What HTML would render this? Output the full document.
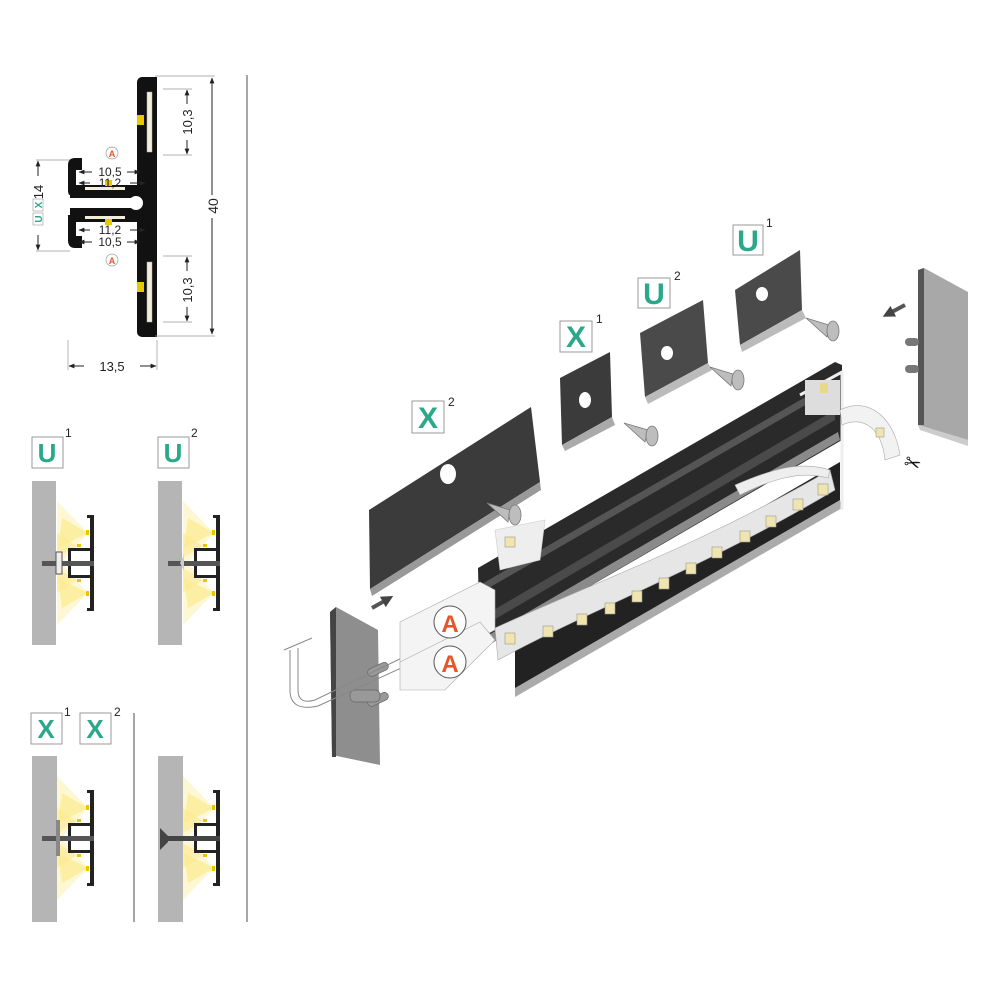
<!DOCTYPE html>
<html><head><meta charset="utf-8"><style>
html,body{margin:0;padding:0;background:#fff;}
svg{display:block;font-family:"Liberation Sans",sans-serif;}
</style></head><body>
<svg width="1000" height="1000" viewBox="0 0 1000 1000" xmlns="http://www.w3.org/2000/svg">
<defs>
<marker id="ar" viewBox="0 0 10 10" refX="9" refY="5" markerWidth="6" markerHeight="6" orient="auto-start-reverse"><path d="M0,1 L10,5 L0,9 z" fill="#222"/></marker>
<marker id="big" viewBox="0 0 10 10" refX="5" refY="5" markerUnits="userSpaceOnUse" markerWidth="12" markerHeight="12" orient="auto"><path d="M0,0 L10,5 L0,10 z" fill="#444"/></marker>
<g id="mini">
  <path d="M56,-30 L25,-62 L25,5 Z" fill="#fdf3c0" opacity="0.7"/>
  <path d="M56,-30 L30,-45 L26,-15 Z" fill="#fbe98f" opacity="0.7"/>
  <path d="M56,30 L25,62 L25,-5 Z" fill="#fdf3c0" opacity="0.7"/>
  <path d="M56,30 L30,45 L26,15 Z" fill="#fbe98f" opacity="0.7"/>
  <path d="M45,-17 L25,-30 L25,-5 Z" fill="#fbe98f" opacity="0.6"/>
  <path d="M45,17 L25,30 L25,5 Z" fill="#fbe98f" opacity="0.6"/>
  <rect x="58" y="-48" width="4" height="96" fill="#222"/>
  <rect x="55" y="-48" width="6" height="3" fill="#222"/>
  <rect x="55" y="45" width="6" height="3" fill="#222"/>
  <rect x="54" y="-33" width="3" height="5" fill="#e8c600"/>
  <rect x="54" y="28" width="3" height="5" fill="#e8c600"/>
  <rect x="36" y="-15" width="22" height="3" fill="#222"/>
  <rect x="36" y="12" width="22" height="3" fill="#222"/>
  <rect x="36" y="-15" width="3" height="30" fill="#222"/>
  <rect x="45" y="-19" width="4" height="3" fill="#e8c600"/>
  <rect x="45" y="16" width="4" height="3" fill="#e8c600"/>
</g>
</defs>

<line x1="247" y1="75" x2="247" y2="922" stroke="#888" stroke-width="1.5"/>
<line x1="134" y1="713" x2="134" y2="922" stroke="#888" stroke-width="1.5"/>

<!-- ===== cross section ===== -->
<g>
  <rect x="137" y="77" width="20" height="260" rx="5" fill="#111"/>
  <rect x="148" y="77" width="9" height="260" fill="#111"/>
  <rect x="147" y="92" width="5" height="60" fill="#f3eedc" stroke="#aaa" stroke-width="0.5"/>
  <rect x="147" y="262" width="5" height="60" fill="#f3eedc" stroke="#aaa" stroke-width="0.5"/>
  <rect x="137" y="115" width="7" height="10" fill="#e8c800"/>
  <rect x="137" y="282" width="7" height="10" fill="#e8c800"/>
  <path d="M68,165 Q68,158 75,158 L82,158 L82,170 L76,170 L76,185 L140,185 L140,195 L70,195 Q68,195 68,190 Z" fill="#111"/>
  <path d="M70,190 L145,190 L145,198 L70,198 Z" fill="#111"/>
  <path d="M70,208 L145,208 L145,216 L70,216 Z" fill="#111"/>
  <path d="M68,215 L140,215 L140,222 L76,222 L76,236 L82,236 L82,248 L75,248 Q68,248 68,240 Z" fill="#111"/>
  <circle cx="136" cy="203" r="7" fill="#fff"/>
  <rect x="140" y="156" width="8" height="6" fill="#111"/>
  <rect x="140" y="244" width="8" height="6" fill="#111"/>
  <rect x="85" y="187" width="40" height="3" fill="#f3eedc"/>
  <rect x="85" y="216" width="40" height="3" fill="#f3eedc"/>
  <rect x="105" y="180" width="7" height="6" fill="#e8c800"/>
  <rect x="105" y="219" width="7" height="6" fill="#e8c800"/>
  <line x1="155" y1="76" x2="215" y2="76" stroke="#999" stroke-width="0.7"/>
  <line x1="155" y1="336" x2="215" y2="336" stroke="#999" stroke-width="0.7"/>
  <line x1="212" y1="78" x2="212" y2="195" stroke="#222" marker-start="url(#ar)"/>
  <line x1="212" y1="218" x2="212" y2="334" stroke="#222" marker-end="url(#ar)"/>
  <text transform="translate(218,206) rotate(-90)" font-size="14" fill="#222" text-anchor="middle">40</text>
  <line x1="163" y1="89" x2="192" y2="89" stroke="#999" stroke-width="0.7"/>
  <line x1="163" y1="155" x2="192" y2="155" stroke="#999" stroke-width="0.7"/>
  <line x1="187" y1="90" x2="187" y2="104" stroke="#222" marker-start="url(#ar)"/>
  <line x1="187" y1="140" x2="187" y2="154" stroke="#222" marker-end="url(#ar)"/>
  <text transform="translate(192,122) rotate(-90)" font-size="13" fill="#222" text-anchor="middle">10,3</text>
  <line x1="163" y1="256" x2="192" y2="256" stroke="#999" stroke-width="0.7"/>
  <line x1="163" y1="322" x2="192" y2="322" stroke="#999" stroke-width="0.7"/>
  <line x1="187" y1="257" x2="187" y2="271" stroke="#222" marker-start="url(#ar)"/>
  <line x1="187" y1="307" x2="187" y2="321" stroke="#222" marker-end="url(#ar)"/>
  <text transform="translate(192,290) rotate(-90)" font-size="13" fill="#222" text-anchor="middle">10,3</text>
  <line x1="36" y1="160" x2="70" y2="160" stroke="#999" stroke-width="0.7"/>
  <line x1="36" y1="251" x2="70" y2="251" stroke="#999" stroke-width="0.7"/>
  <line x1="38" y1="161" x2="38" y2="176" stroke="#222" marker-start="url(#ar)"/>
  <line x1="38" y1="235" x2="38" y2="250" stroke="#222" marker-end="url(#ar)"/>
  <text transform="translate(43,192) rotate(-90)" font-size="13" fill="#222" text-anchor="middle">14</text>
  <rect x="33" y="199" width="10" height="12" fill="#fff" stroke="#999" stroke-width="0.6"/>
  <text transform="translate(42,205) rotate(-90)" font-size="10" font-weight="bold" fill="#2aa88a" text-anchor="middle">X</text>
  <rect x="33" y="213" width="10" height="12" fill="#fff" stroke="#999" stroke-width="0.6"/>
  <text transform="translate(42,219) rotate(-90)" font-size="10" font-weight="bold" fill="#2aa88a" text-anchor="middle">U</text>
  <line x1="68" y1="340" x2="68" y2="370" stroke="#999" stroke-width="0.7"/>
  <line x1="157" y1="340" x2="157" y2="370" stroke="#999" stroke-width="0.7"/>
  <line x1="69" y1="366" x2="84" y2="366" stroke="#222" marker-start="url(#ar)"/>
  <line x1="140" y1="366" x2="156" y2="366" stroke="#222" marker-end="url(#ar)"/>
  <text x="112" y="371" font-size="13" fill="#222" text-anchor="middle">13,5</text>
  <line x1="79" y1="172" x2="92" y2="172" stroke="#222" marker-start="url(#ar)"/>
  <line x1="127" y1="172" x2="140" y2="172" stroke="#222" marker-end="url(#ar)"/>
  <text x="110" y="176" font-size="12" fill="#222" text-anchor="middle">10,5</text>
  <line x1="79" y1="183" x2="90" y2="183" stroke="#222" marker-start="url(#ar)"/>
  <line x1="130" y1="183" x2="145" y2="183" stroke="#222" marker-end="url(#ar)"/>
  <text x="110" y="187" font-size="12" fill="#222" text-anchor="middle">11,2</text>
  <line x1="79" y1="230" x2="90" y2="230" stroke="#222" marker-start="url(#ar)"/>
  <line x1="130" y1="230" x2="145" y2="230" stroke="#222" marker-end="url(#ar)"/>
  <text x="110" y="234" font-size="12" fill="#222" text-anchor="middle">11,2</text>
  <line x1="79" y1="242" x2="92" y2="242" stroke="#222" marker-start="url(#ar)"/>
  <line x1="127" y1="242" x2="140" y2="242" stroke="#222" marker-end="url(#ar)"/>
  <text x="110" y="246" font-size="12" fill="#222" text-anchor="middle">10,5</text>
  <circle cx="112" cy="153" r="6" fill="#fff" stroke="#999" stroke-width="0.7"/>
  <text x="112" y="157" font-size="9" font-weight="bold" fill="#e8542a" text-anchor="middle">A</text>
  <circle cx="112" cy="260" r="6" fill="#fff" stroke="#999" stroke-width="0.7"/>
  <text x="112" y="264" font-size="9" font-weight="bold" fill="#e8542a" text-anchor="middle">A</text>
</g>

<!-- ===== mini sections ===== -->
<g font-weight="bold" fill="#2aa88a" font-size="26" text-anchor="middle">
  <rect x="32" y="437" width="31" height="31" fill="#fff" stroke="#999"/><text x="47" y="462">U</text>
  <rect x="158" y="437" width="31" height="31" fill="#fff" stroke="#999"/><text x="173" y="462">U</text>
  <rect x="31" y="713" width="31" height="31" fill="#fff" stroke="#999"/><text x="46" y="738">X</text>
  <rect x="80" y="713" width="31" height="31" fill="#fff" stroke="#999"/><text x="95" y="738">X</text>
</g>
<g font-size="12" fill="#222">
  <text x="65" y="437">1</text><text x="191" y="437">2</text>
  <text x="64" y="716">1</text><text x="114" y="716">2</text>
</g>
<rect x="32" y="481" width="24" height="164" fill="#b5b5b5"/>
<rect x="158" y="481" width="24" height="164" fill="#b5b5b5"/>
<rect x="32" y="756" width="25" height="166" fill="#b5b5b5"/>
<rect x="158" y="756" width="25" height="166" fill="#b5b5b5"/>
<use href="#mini" x="32" y="563"/>
<use href="#mini" x="158" y="563"/>
<use href="#mini" x="32" y="838"/>
<use href="#mini" x="158" y="838"/>
<rect x="42" y="561" width="52" height="5" fill="#555"/>
<rect x="56" y="552" width="6" height="22" fill="#eee" stroke="#555"/>
<rect x="168" y="561" width="52" height="5" fill="#555"/>
<path d="M180,563 L184,555 L184,571 Z" fill="#ccc"/>
<rect x="42" y="836" width="52" height="5" fill="#555"/>
<rect x="56" y="820" width="4" height="36" fill="#888"/>
<rect x="160" y="836" width="60" height="5" fill="#444"/>
<path d="M160,828 L168,836 L168,842 L160,850 Z" fill="#444"/>

<!-- ===== exploded view ===== -->
<g font-weight="bold" fill="#2aa88a" font-size="30" text-anchor="middle">
  <rect x="412" y="401" width="32" height="32" fill="#fff" stroke="#999"/><text x="428" y="428">X</text>
  <rect x="560" y="321" width="32" height="31" fill="#fff" stroke="#999"/><text x="576" y="347">X</text>
  <rect x="638" y="278" width="32" height="30" fill="#fff" stroke="#999"/><text x="654" y="304">U</text>
  <rect x="733" y="225" width="30" height="30" fill="#fff" stroke="#999"/><text x="748" y="251">U</text>
</g>
<g font-size="12" fill="#222">
  <text x="448" y="406">2</text><text x="596" y="323">1</text><text x="674" y="280">2</text><text x="766" y="227">1</text>
</g>

<path d="M369,510 L531,407 L540,482 L370,589 Z" fill="#3b3b3b"/>
<path d="M370,589 L540,482 L541,490 L372,596 Z" fill="#999"/>
<ellipse cx="448" cy="474" rx="8" ry="10" fill="#fff"/>
<path d="M560,378 L610,352 L612,417 L562,445 Z" fill="#3b3b3b"/>
<path d="M562,445 L612,417 L615,425 L565,451 Z" fill="#aaa"/>
<ellipse cx="585" cy="400" rx="6" ry="8" fill="#fff"/>
<path d="M640,333 L703,300 L708,363 L645,397 Z" fill="#4a4a4a"/>
<path d="M645,397 L708,363 L712,370 L648,404 Z" fill="#bbb"/>
<ellipse cx="667" cy="353" rx="6" ry="7" fill="#fff"/>
<path d="M735,290 L800,250 L802,310 L740,345 Z" fill="#4a4a4a"/>
<path d="M740,345 L802,310 L806,318 L742,352 Z" fill="#bbb"/>
<ellipse cx="762" cy="294" rx="6" ry="7" fill="#fff"/>

<g fill="#bdbdbd" stroke="#777" stroke-width="0.8">
  <path d="M487,503 L510,510 L508,522 Z"/><ellipse cx="515" cy="515" rx="6" ry="10"/>
  <path d="M624,423 L648,430 L645,442 Z"/><ellipse cx="652" cy="436" rx="6" ry="10"/>
  <path d="M710,367 L733,374 L731,386 Z"/><ellipse cx="738" cy="380" rx="6" ry="10"/>
  <path d="M806,318 L829,325 L827,337 Z"/><ellipse cx="833" cy="331" rx="6" ry="10"/>
</g>

<path d="M478,568 L835,362 L842,365 L842,440 L480,650 Z" fill="#2a2a2a"/>
<path d="M480,585 L835,380 L835,388 L480,593 Z" fill="#555"/>
<path d="M480,618 L835,410 L835,420 L480,628 Z" fill="#4a4a4a"/>
<path d="M480,640 L838,432 L840,440 L480,650 Z" fill="#8a8a8a"/>
<path d="M515,650 L840,462 L840,508 L515,695 Z" fill="#222"/>
<path d="M515,688 L840,500 L842,508 L515,697 Z" fill="#aaa"/>
<path d="M800,395 L842,372 L842,510" fill="none" stroke="#eee" stroke-width="3"/>
<rect x="805" y="380" width="35" height="35" fill="#ddd"/>
<rect x="820" y="383" width="8" height="10" fill="#e8d88a"/>
<path d="M495,628 C600,580 700,545 830,470 L835,490 C700,570 600,605 498,660 Z" fill="#e6e6e6" stroke="#aaa" stroke-width="0.6"/>
<g fill="#f0e4b0" stroke="#998" stroke-width="0.6">
  <rect x="505" y="633" width="10" height="11"/><rect x="543" y="626" width="10" height="11"/><rect x="577" y="614" width="10" height="11"/>
  <rect x="605" y="603" width="10" height="11"/><rect x="632" y="591" width="10" height="11"/><rect x="659" y="578" width="10" height="11"/>
  <rect x="686" y="563" width="10" height="11"/><rect x="712" y="547" width="10" height="11"/><rect x="740" y="531" width="10" height="11"/>
  <rect x="766" y="516" width="10" height="11"/><rect x="793" y="499" width="10" height="11"/><rect x="818" y="484" width="10" height="11"/>
</g>
<path d="M735,485 C770,470 800,460 830,470 L828,478 C800,470 770,480 740,495 Z" fill="#eee" stroke="#aaa" stroke-width="0.6"/>
<path d="M495,530 L545,520 L540,560 L500,570 Z" fill="#eee" stroke="#ccc" stroke-width="0.6"/>
<rect x="505" y="537" width="10" height="10" fill="#f0e4b0" stroke="#998" stroke-width="0.6"/>
<path d="M840,410 C870,395 895,420 900,455 L885,460 C882,430 865,415 842,425 Z" fill="#f2f2f2" stroke="#aaa" stroke-width="0.6"/>
<rect x="876" y="428" width="8" height="9" fill="#f0e4b0" stroke="#998" stroke-width="0.6"/>
<text x="912" y="470" font-size="20" fill="#111" text-anchor="middle" transform="rotate(20 912 465)">✂</text>

<path d="M918,270 L924,268 L968,292 L968,440 L918,425 Z" fill="#a8a8a8"/>
<path d="M918,270 L924,268 L924,425 L918,425 Z" fill="#555"/>
<path d="M918,425 L968,440 L968,446 L920,430 Z" fill="#ccc"/>
<rect x="905" y="338" width="14" height="8" rx="4" fill="#777"/>
<rect x="905" y="365" width="14" height="8" rx="4" fill="#777"/>
<line x1="905" y1="305" x2="888" y2="314" stroke="#555" stroke-width="4" marker-end="url(#big)"/>

<path d="M330,612 L336,607 L378,630 L380,765 L332,755 Z" fill="#8e8e8e"/>
<path d="M330,612 L336,607 L336,757 L332,757 Z" fill="#444"/>
<g fill="#999" stroke="#666" stroke-width="0.7">
  <rect x="368" y="670" width="22" height="8" rx="4" transform="rotate(-25 368 674)"/>
  <rect x="368" y="700" width="22" height="8" rx="4" transform="rotate(-25 368 704)"/>
  <rect x="350" y="690" width="30" height="12" rx="5"/>
</g>
<line x1="372" y1="608" x2="388" y2="599" stroke="#555" stroke-width="4" marker-end="url(#big)"/>
<path d="M284,650 L312,638 M298,648 L298,690 Q298,705 315,700 L408,655" fill="none" stroke="#888" stroke-width="1"/>
<path d="M290,650 L290,690 Q290,712 318,706 L410,664" fill="none" stroke="#888" stroke-width="1"/>
<path d="M400,622 L480,582 L495,590 L495,630 L418,670 L400,665 Z" fill="#f4f4f4" stroke="#aaa" stroke-width="0.6"/>
<path d="M400,662 L480,622 L495,640 L445,690 L400,690 Z" fill="#f4f4f4" stroke="#aaa" stroke-width="0.6"/>
<circle cx="450" cy="622" r="16" fill="#fff" stroke="#555"/>
<text x="450" y="632" font-size="24" font-weight="bold" fill="#e8542a" text-anchor="middle">A</text>
<circle cx="450" cy="662" r="16" fill="#fff" stroke="#555"/>
<text x="450" y="672" font-size="24" font-weight="bold" fill="#e8542a" text-anchor="middle">A</text>
</svg>
</body></html>
